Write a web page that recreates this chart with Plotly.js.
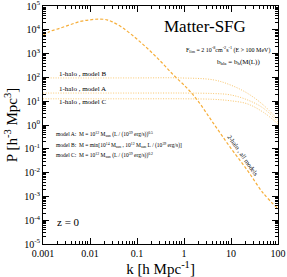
<!DOCTYPE html>
<html>
<head>
<meta charset="utf-8">
<script src="https://cdn.plot.ly/plotly-3.0.1.min.js"></script>
<style>html,body{margin:0;padding:0;background:#fff;}#plot{width:287px;height:277px;}</style>
</head>
<body>
<div id="plot"></div>
<script>
// 2-halo term (all models)
const k2h = [0.001, 0.0014, 0.0023, 0.0037, 0.0062, 0.01, 0.015, 0.023, 0.03, 0.05, 0.115, 0.27, 0.59, 1.15, 1.9, 4.2, 9.5, 22, 48, 100];
const P2h = [5800, 8500, 11700, 16200, 22400, 26300, 28200, 26300, 21500, 12000, 3200, 660, 129, 36, 11.5, 1.2, 0.12, 0.013, 0.0014, 0.0003];
// 1-halo terms
const k1hB = [0.001, 0.1, 0.82, 4.2, 9.5, 22, 48, 100];
const P1hB = [95, 95, 95, 79, 49, 22, 7.1, 1.66];
const k1hA = [0.001, 0.1, 1, 4.2, 9.5, 22, 48, 100];
const P1hA = [22, 22, 22, 21, 18.6, 11.5, 5.2, 1.35];
const k1hC = [0.001, 0.1, 1, 4.2, 9.5, 22, 48, 100];
const P1hC = [12.6, 12.6, 12.6, 12.0, 10.5, 7.8, 3.5, 1.12];
// tick labels
const xTickVals = [0.001, 0.01, 0.1, 1, 10, 100];
const xTickText = ['0.001', '0.01', '0.1', '1', '10', '100'];
const yTickVals = [1e-5, 1e-4, 1e-3, 1e-2, 1e-1, 1, 10, 100, 1e3, 1e4, 1e5];
const yTickText = ['10<sup>-5</sup>', '10<sup>-4</sup>', '10<sup>-3</sup>', '10<sup>-2</sup>', '10<sup>-1</sup>', '10<sup>0</sup>', '10<sup>1</sup>', '10<sup>2</sup>', '10<sup>3</sup>', '10<sup>4</sup>', '10<sup>5</sup>'];

function minorTicks(lo, hi) {
  const out = [];
  for (let e = lo; e < hi; e++) for (let m = 2; m <= 9; m++) out.push(m * Math.pow(10, e));
  return out;
}

const dashCol = '#F6AE3A';
const dotCol = '#F9C56A';

const traces = [
  {x: k2h, y: P2h, mode: 'lines', line: {color: dashCol, width: 1.2, dash: '3px,2px', shape: 'spline'}},
  {x: k1hB, y: P1hB, mode: 'lines', line: {color: dotCol, width: 1, dash: '1px,1.5px', shape: 'spline'}},
  {x: k1hA, y: P1hA, mode: 'lines', line: {color: dotCol, width: 1, dash: '1px,1.5px', shape: 'spline'}},
  {x: k1hC, y: P1hC, mode: 'lines', line: {color: dotCol, width: 1, dash: '1px,1.5px', shape: 'spline'}}
];

const F = 'Liberation Serif, Times New Roman, serif';
function ann(text, x, y, size, xanchor, extra) {
  return Object.assign({text: text, x: x, y: y, xref: 'paper', yref: 'paper', showarrow: false,
    xanchor: xanchor || 'left', yanchor: 'middle', font: {family: F, size: size, color: '#000'}}, extra || {});
}

const axisCommon = {
  type: 'log', showgrid: false, zeroline: false, showline: true, linecolor: '#000', linewidth: 1,
  ticks: 'inside', ticklen: 6, tickwidth: 1, tickcolor: '#000', mirror: 'allticks',
  tickfont: {family: F, size: 10, color: '#000'}, tickmode: 'array', ticklabeloverflow: 'allow'
};

const layout = {
  width: 287, height: 277,
  margin: {l: 43, r: 9, t: 6, b: 33},
  paper_bgcolor: '#fff', plot_bgcolor: '#fff',
  showlegend: false,
  font: {family: F, color: '#000'},
  xaxis: Object.assign({}, axisCommon, {
    range: [-3.0001, 2.0001], tickvals: xTickVals, ticktext: xTickText,
    minor: {tickmode: 'array', tickvals: minorTicks(-3, 2), ticks: 'inside', ticklen: 3, tickcolor: '#000'},
    title: {text: 'k [h Mpc<sup>-1</sup>]', font: {family: F, size: 15}, standoff: 4}
  }),
  yaxis: Object.assign({}, axisCommon, {
    range: [-5.0001, 5.0001], tickvals: yTickVals, ticktext: yTickText,
    minor: {tickmode: 'array', tickvals: minorTicks(-5, 5), ticks: 'inside', ticklen: 3, tickcolor: '#000'},
    title: {text: 'P [h<sup>-3</sup> Mpc<sup>3</sup>]', font: {family: F, size: 15}, standoff: 2}
  }),
  annotations: [
    ann('Matter-SFG', 0.689, 0.912, 17, 'center'),
    ann('F<sub>lim</sub> = 2 10<sup>-8</sup>cm<sup>-2</sup>s<sup>-1</sup> (E > 100 MeV)', 0.974, 0.819, 6, 'right'),
    ann('b<sub>bla</sub> = b<sub>h</sub>(M(L))', 0.932, 0.765, 7, 'right'),
    ann('1-halo , model B', 0.06, 0.714, 7),
    ann('1-halo , model A', 0.06, 0.651, 7),
    ann('1-halo , model C', 0.06, 0.597, 7),
    ann('model A:  M = 10<sup>12</sup> M<sub>sun</sub> (L / (10<sup>39</sup> erg/s))<sup>0.5</sup>', 0.047, 0.458, 5.5),
    ann('model B:  M = min[10<sup>14</sup> M<sub>sun</sub> , 10<sup>12</sup> M<sub>sun</sub> L / (10<sup>39</sup> erg/s)]', 0.047, 0.412, 5.5),
    ann('model C:  M = 10<sup>12</sup> M<sub>sun</sub> (L / (10<sup>39</sup> erg/s))<sup>0.2</sup>', 0.047, 0.370, 5.5),
    ann('2-halo , all models', 0.851, 0.370, 6.5, 'center', {textangle: 55}),
    ann('z = 0', 0.051, 0.092, 11)
  ]
};

Plotly.newPlot('plot', traces, layout, {staticPlot: true, displayModeBar: false});
</script>
</body>
</html>
